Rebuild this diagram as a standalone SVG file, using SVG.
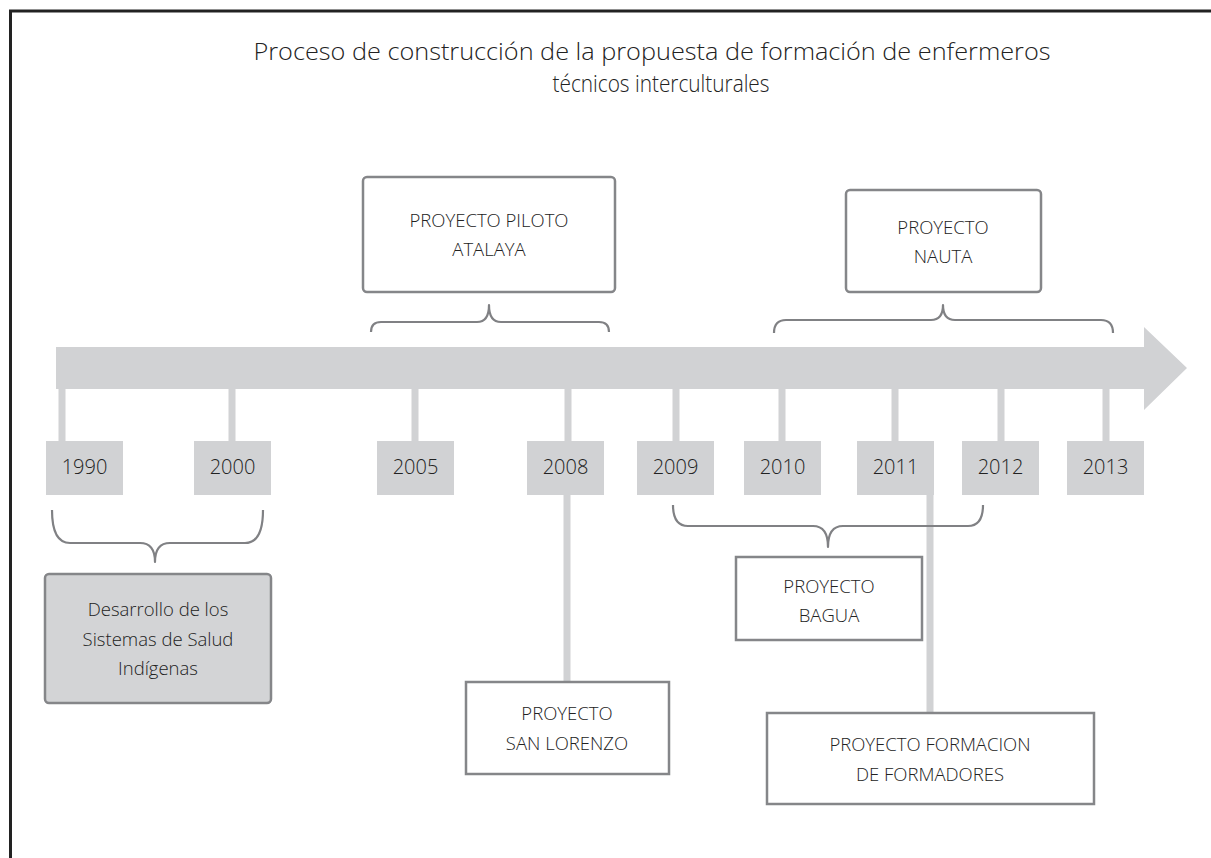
<svg xmlns="http://www.w3.org/2000/svg" width="1211" height="858" viewBox="0 0 1211 858">
<style>
text{font-family:"Open Sans","Liberation Sans",sans-serif;fill:#222;text-anchor:middle;font-weight:300}
.title{font-size:24px}
.lbl{font-size:18.5px}
.yr{font-size:20px}
.box{fill:#fff;stroke:#858689;stroke-width:2.5}
.grey{fill:#d3d4d6;stroke:#858689;stroke-width:2.5}
.yb{fill:#d1d2d4}
.tick{stroke:#d1d2d4;stroke-width:7;fill:none}
.br{fill:none;stroke:#808184;stroke-width:2.2;stroke-linejoin:round}
</style>
<rect width="1211" height="858" fill="#fff"/>
<path d="M10.5,858 L10.5,11 L1211,11" fill="none" stroke="#222" stroke-width="3"/>
<g id="title">
<text class="title" x="652" y="60" textLength="797" lengthAdjust="spacingAndGlyphs">Proceso de construcción de la propuesta de formación de enfermeros</text>
<text class="title" x="661" y="92" textLength="217" lengthAdjust="spacingAndGlyphs">técnicos interculturales</text>
</g>
<g id="timeline">
<path d="M56,347 L1144,347 L1144,327 L1187,368 L1144,410 L1144,389 L56,389 Z" fill="#d1d2d4"/>
</g>
<g id="connectors">
<path class="tick" d="M62,389V441 M232,389V441 M415,389V441 M568,389V441 M676,389V441 M782,389V441 M895,389V441 M1001,389V441 M1106,389V441"/>
<path class="tick" d="M567,495V682 M930,495V713"/>
<path class="br" d="M371,332 Q371,322 381,322 L477,322 Q489,322 489,305 Q489,322 501,322 L599,322 Q609,322 609,332"/>
<path class="br" d="M774,333 Q774,320 786,320 L931,320 Q943,320 943,305 Q943,320 955,320 L1101,320 Q1113,320 1113,333"/>
<path class="br" d="M52,510 Q52,543 70,543 L140,543 Q155,543 155,562 Q155,543 170,543 L245,543 Q263,543 263,510"/>
<path class="br" d="M673,505 Q673,526 688,526 L813,526 Q828,526 828,547 Q828,526 843,526 L968,526 Q983,526 983,505"/>
</g>
<g id="y1990"><rect class="yb" x="46" y="441" width="77" height="54"/><text class="yr" x="84.5" y="474">1990</text></g>
<g id="y2000"><rect class="yb" x="194" y="441" width="77" height="54"/><text class="yr" x="232.5" y="474">2000</text></g>
<g id="y2005"><rect class="yb" x="377" y="441" width="77" height="54"/><text class="yr" x="415.5" y="474">2005</text></g>
<g id="y2008"><rect class="yb" x="527" y="441" width="77" height="54"/><text class="yr" x="565.5" y="474">2008</text></g>
<g id="y2009"><rect class="yb" x="637" y="441" width="77" height="54"/><text class="yr" x="675.5" y="474">2009</text></g>
<g id="y2010"><rect class="yb" x="744" y="441" width="77" height="54"/><text class="yr" x="782.5" y="474">2010</text></g>
<g id="y2011"><rect class="yb" x="857" y="441" width="77" height="54"/><text class="yr" x="895.5" y="474">2011</text></g>
<g id="y2012"><rect class="yb" x="962" y="441" width="77" height="54"/><text class="yr" x="1000.5" y="474">2012</text></g>
<g id="y2013"><rect class="yb" x="1067" y="441" width="77" height="54"/><text class="yr" x="1105.5" y="474">2013</text></g>
<g id="piloto">
<rect class="box" x="363" y="177" width="252" height="115" rx="4"/>
<text class="lbl" x="489" y="227">PROYECTO PILOTO</text>
<text class="lbl" x="489" y="256">ATALAYA</text>
</g>
<g id="nauta">
<rect class="box" x="846" y="190" width="195" height="102" rx="4"/>
<text class="lbl" x="943" y="234">PROYECTO</text>
<text class="lbl" x="943" y="263">NAUTA</text>
</g>
<g id="desarrollo">
<rect class="grey" x="45" y="574" width="226" height="129" rx="4"/>
<text class="lbl" x="158" y="616">Desarrollo de los</text>
<text class="lbl" x="158" y="646">Sistemas de Salud</text>
<text class="lbl" x="158" y="675">Indígenas</text>
</g>
<g id="bagua">
<rect class="box" x="736" y="557" width="186" height="83"/>
<text class="lbl" x="829" y="593">PROYECTO</text>
<text class="lbl" x="829" y="622">BAGUA</text>
</g>
<g id="sanlorenzo">
<rect class="box" x="466" y="682" width="203" height="92"/>
<text class="lbl" x="567" y="720">PROYECTO</text>
<text class="lbl" x="567" y="750">SAN LORENZO</text>
</g>
<g id="formacion">
<rect class="box" x="767" y="713" width="327" height="91"/>
<text class="lbl" x="930" y="751">PROYECTO FORMACION</text>
<text class="lbl" x="930" y="781">DE FORMADORES</text>
</g>
</svg>
